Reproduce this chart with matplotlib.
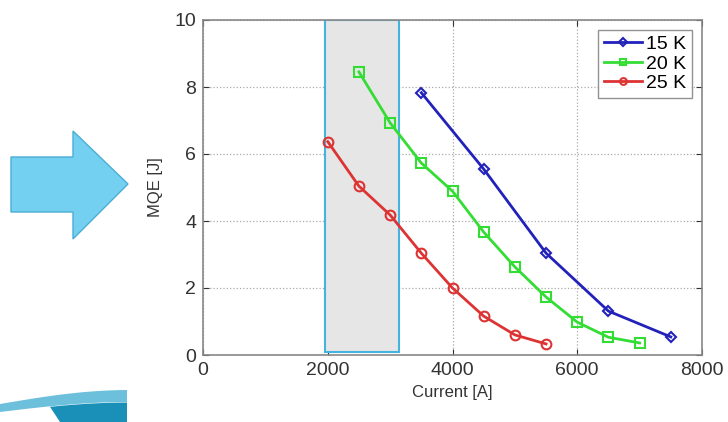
import numpy as np
import matplotlib.pyplot as plt
from matplotlib.patches import Polygon, Rectangle

plt.rcParams['font.family'] = ['Liberation Sans', 'DejaVu Sans']

# data
current_15k = [3500, 4500, 5500, 6500, 7500]
mqe_15k = [7.83, 5.55, 3.04, 1.31, 0.54]

current_20k = [2500, 3000, 3500, 4000, 4500, 5000, 5500, 6000, 6500, 7000]
mqe_20k = [8.45, 6.93, 5.73, 4.89, 3.67, 2.63, 1.73, 0.98, 0.53, 0.36]

current_25k = [2000, 2500, 3000, 3500, 4000, 4500, 5000, 5500]
mqe_25k = [6.37, 5.04, 4.18, 3.04, 2.00, 1.16, 0.60, 0.33]

series_labels = ['15 K', '20 K', '25 K']
highlight_range = (1950, 3150)
highlight_y = (0.1, 10.0)

W, H = 728, 422
fig = plt.figure(figsize=(W / 100, H / 100), dpi=100)
ax = fig.add_axes([203 / W, 1 - 355 / H, 499 / W, 335 / H])

# shaded region
ax.add_patch(Rectangle((highlight_range[0], highlight_y[0]),
                       highlight_range[1] - highlight_range[0],
                       highlight_y[1] - highlight_y[0],
                       facecolor='#e6e6e6', edgecolor='#45b3e0',
                       linewidth=1.5, zorder=1))

ax.plot(current_15k, mqe_15k, '-D', color='#2222bb', mfc='none', mew=1.5,
        ms=5.5, lw=2, label=series_labels[0], zorder=3)
ax.plot(current_20k, mqe_20k, '-s', color='#33dd33', mfc='none', mew=1.5,
        ms=7, lw=2, label=series_labels[1], zorder=3)
ax.plot(current_25k, mqe_25k, '-o', color='#dd3333', mfc='none', mew=1.5,
        ms=7, lw=2, label=series_labels[2], zorder=3)

ax.set_xlim(0, 8000)
ax.set_ylim(0, 10)
ax.set_xticks([0, 2000, 4000, 6000, 8000])
ax.set_yticks([0, 2, 4, 6, 8, 10])
ax.grid(True, linestyle=':', color='#aaaaaa', linewidth=0.9)
ax.set_axisbelow(True)
ax.tick_params(direction='in', top=True, right=True, labelsize=14,
               colors='#333333', length=4, pad=5)
for sp in ax.spines.values():
    sp.set_color('#888888')
    sp.set_linewidth(1.2)

ax.set_xlabel('Current [A]', fontsize=12, color='#333333', labelpad=4)
ax.set_ylabel('MQE [J]', fontsize=12, color='#333333', labelpad=8)

leg = ax.legend(loc='upper right', fontsize=14, frameon=True, fancybox=False,
                borderpad=0.3, handlelength=2.0, handletextpad=0.2,
                labelspacing=0.1, borderaxespad=0.5, markerscale=0.7)
leg.get_frame().set_edgecolor('#777777')
leg.get_frame().set_linewidth(1.0)


def px(points):
    return [(x / W, 1 - y / H) for x, y in points]


# decorative arrow on the left
arrow = [(11, 157), (73, 157), (73, 131), (128, 184), (73, 239), (73, 212), (11, 212)]
fig.patches.append(Polygon(px(arrow), closed=True, transform=fig.transFigure,
                           facecolor='#74d0f0', edgecolor='#4aaed6', lw=1))

# logo fragment bottom-left
upper = [(x, 404 - 14 * np.sin(np.pi * x / 260)) for x in np.linspace(0, 127, 40)]
lower = [(x, 412 - 10 * np.sin(np.pi * x / 260)) for x in np.linspace(127, 0, 40)]
fig.patches.append(Polygon(px(upper + lower), closed=True, transform=fig.transFigure,
                           facecolor='#6cc0dc', edgecolor='none'))
band_top = [(x, 412 - 10 * np.sin(np.pi * x / 260) + 0.5) for x in np.linspace(50, 127, 30)]
band_bot = [(127, 422), (60, 422)]
fig.patches.append(Polygon(px(band_top + band_bot), closed=True, transform=fig.transFigure,
                           facecolor='#1a90b8', edgecolor='none'))

fig.savefig('out.png', dpi=100)
